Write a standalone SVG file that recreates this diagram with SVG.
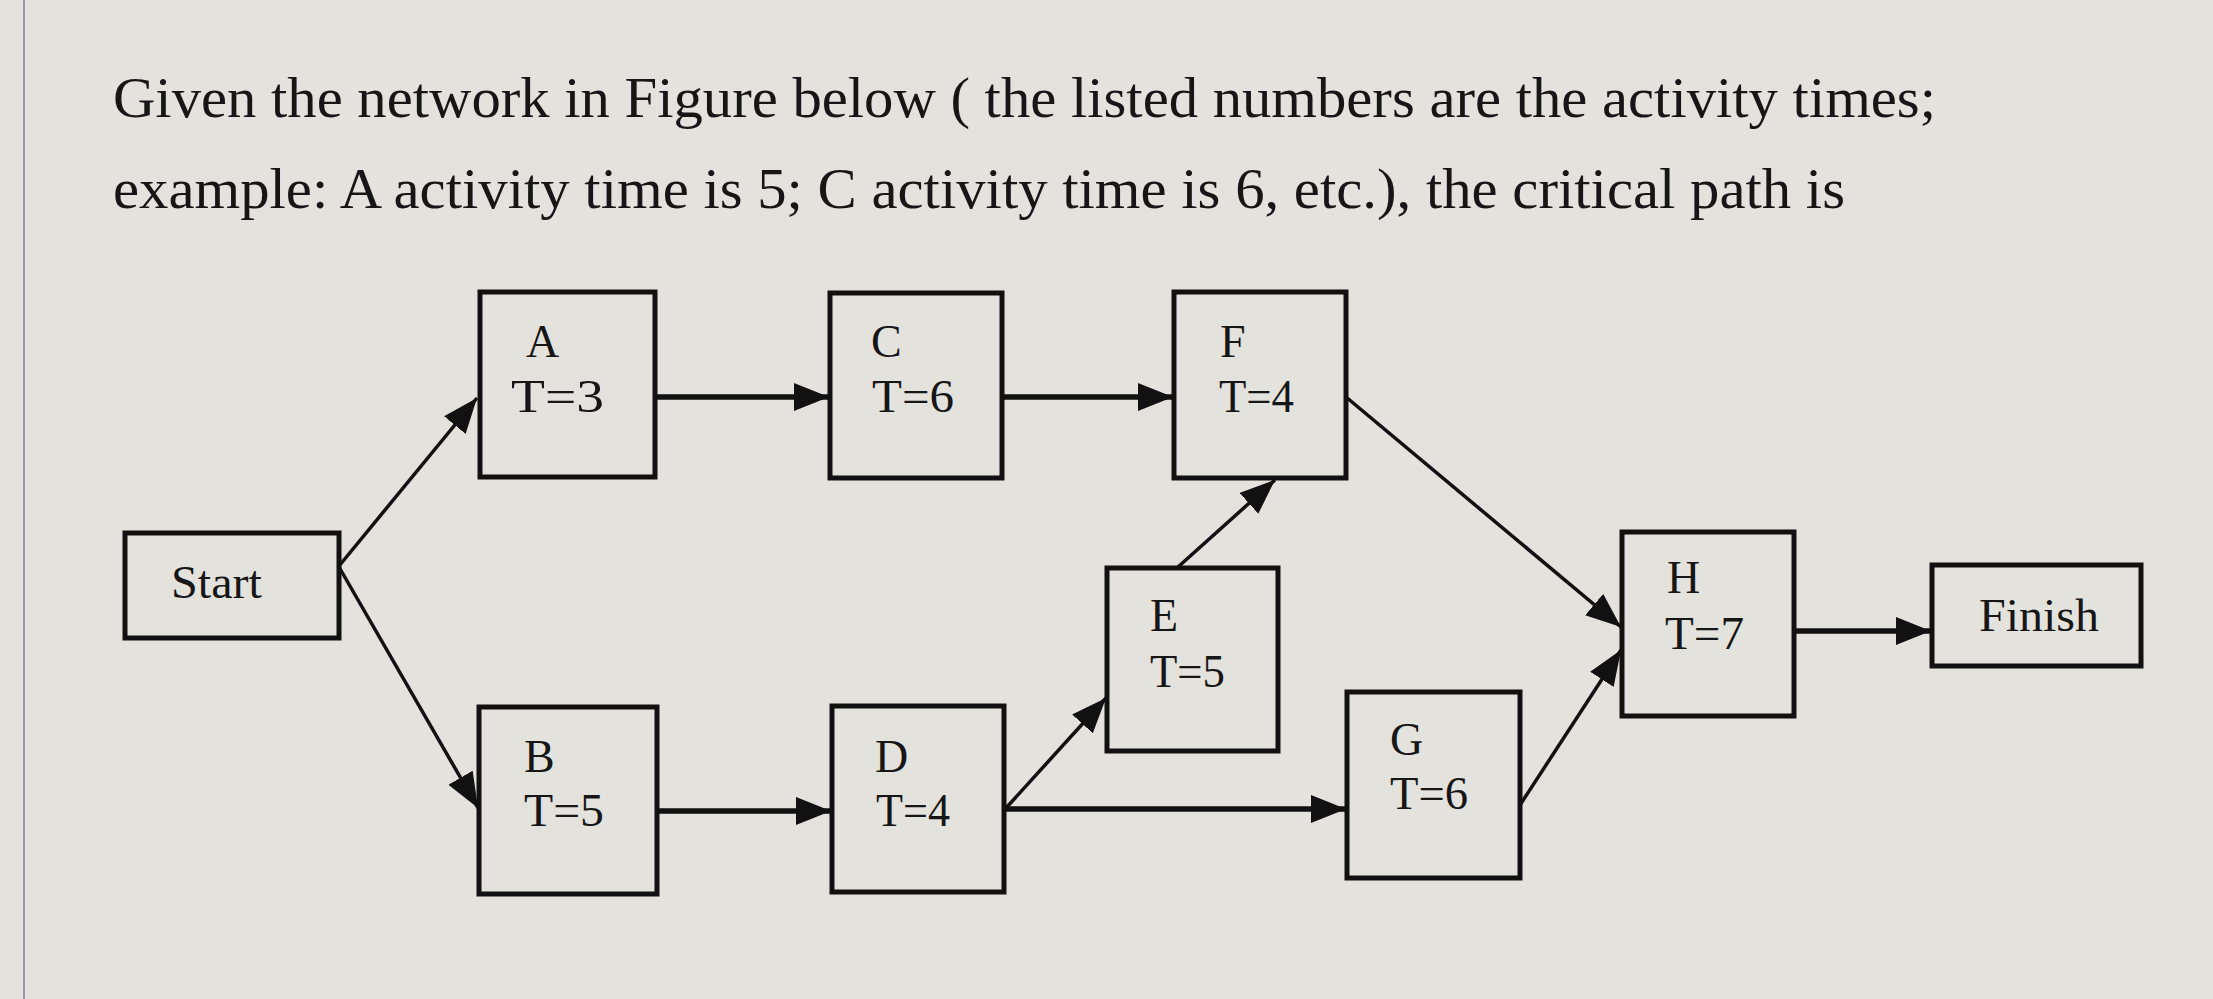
<svg xmlns="http://www.w3.org/2000/svg" width="2213" height="999" viewBox="0 0 2213 999">
<defs>
<style>
.t{font-family:"Liberation Serif","Times New Roman",serif;fill:#161616;}
.q{font-size:58px;}
.n{font-size:46px;}
.box{fill:none;stroke:#111;stroke-width:5;}
.c{stroke:#111;fill:none;}
.h{stroke-width:5.5;}
.d{stroke-width:3.5;}
</style>
<marker id="ah" markerUnits="userSpaceOnUse" markerWidth="38" markerHeight="30" refX="35" refY="14" orient="auto">
<path d="M0,0 L35,14 L0,28 z" fill="#111"/>
</marker>
</defs>
<rect x="0" y="0" width="2213" height="999" fill="#e4e2dd"/>
<line x1="24" y1="0" x2="24" y2="999" stroke="#9a9a9a" stroke-width="2"/>
<g id="question">
<text class="t q" x="113" y="117" textLength="1823" lengthAdjust="spacingAndGlyphs">Given the network in Figure below ( the listed numbers are the activity times;</text>
<text class="t q" x="113" y="208" textLength="1732" lengthAdjust="spacingAndGlyphs">example: A activity time is 5; C activity time is 6, etc.), the critical path is</text>
</g>
<g id="connectors">
<line class="c d" x1="339" y1="566" x2="477" y2="398" marker-end="url(#ah)"/>
<line class="c d" x1="339" y1="567" x2="478" y2="808" marker-end="url(#ah)"/>
<line class="c h" x1="656" y1="397" x2="829" y2="397" marker-end="url(#ah)"/>
<line class="c h" x1="1002" y1="397" x2="1173" y2="397" marker-end="url(#ah)"/>
<line class="c d" x1="1178" y1="567" x2="1275" y2="480" marker-end="url(#ah)"/>
<line class="c d" x1="1346" y1="397" x2="1621" y2="627" marker-end="url(#ah)"/>
<line class="c d" x1="1520" y1="805" x2="1621" y2="650" marker-end="url(#ah)"/>
<line class="c h" x1="1794" y1="631" x2="1931" y2="631" marker-end="url(#ah)"/>
<line class="c h" x1="658" y1="811" x2="831" y2="811" marker-end="url(#ah)"/>
<line class="c h" x1="1005" y1="809" x2="1346" y2="809" marker-end="url(#ah)"/>
<line class="c d" x1="1006" y1="808" x2="1106" y2="698" marker-end="url(#ah)"/>
</g>
<g id="start">
<rect class="box" x="125" y="533" width="214" height="105"/>
<text class="t n" x="171" y="598" textLength="91" lengthAdjust="spacingAndGlyphs">Start</text>
</g>
<g id="A">
<rect class="box" x="480" y="292" width="175" height="185"/>
<text class="t n" x="526" y="357">A</text>
<text class="t n" x="511" y="412" textLength="93" lengthAdjust="spacingAndGlyphs">T=3</text>
</g>
<g id="C">
<rect class="box" x="830" y="293" width="172" height="185"/>
<text class="t n" x="871" y="357">C</text>
<text class="t n" x="872" y="412" textLength="82" lengthAdjust="spacingAndGlyphs">T=6</text>
</g>
<g id="F">
<rect class="box" x="1174" y="292" width="172" height="186"/>
<text class="t n" x="1220" y="357">F</text>
<text class="t n" x="1219" y="412" textLength="75" lengthAdjust="spacingAndGlyphs">T=4</text>
</g>
<g id="B">
<rect class="box" x="479" y="707" width="178" height="187"/>
<text class="t n" x="524" y="772">B</text>
<text class="t n" x="524" y="826" textLength="80" lengthAdjust="spacingAndGlyphs">T=5</text>
</g>
<g id="D">
<rect class="box" x="832" y="706" width="172" height="186"/>
<text class="t n" x="875" y="772">D</text>
<text class="t n" x="876" y="826" textLength="74" lengthAdjust="spacingAndGlyphs">T=4</text>
</g>
<g id="E">
<rect class="box" x="1107" y="568" width="171" height="183"/>
<text class="t n" x="1150" y="631">E</text>
<text class="t n" x="1150" y="687" textLength="75" lengthAdjust="spacingAndGlyphs">T=5</text>
</g>
<g id="G">
<rect class="box" x="1347" y="692" width="173" height="186"/>
<text class="t n" x="1390" y="755">G</text>
<text class="t n" x="1390" y="809" textLength="78" lengthAdjust="spacingAndGlyphs">T=6</text>
</g>
<g id="H">
<rect class="box" x="1622" y="532" width="172" height="184"/>
<text class="t n" x="1667" y="593">H</text>
<text class="t n" x="1665" y="649" textLength="79" lengthAdjust="spacingAndGlyphs">T=7</text>
</g>
<g id="finish">
<rect class="box" x="1932" y="565" width="209" height="101"/>
<text class="t n" x="1979" y="631" textLength="120" lengthAdjust="spacingAndGlyphs">Finish</text>
</g>
</svg>
